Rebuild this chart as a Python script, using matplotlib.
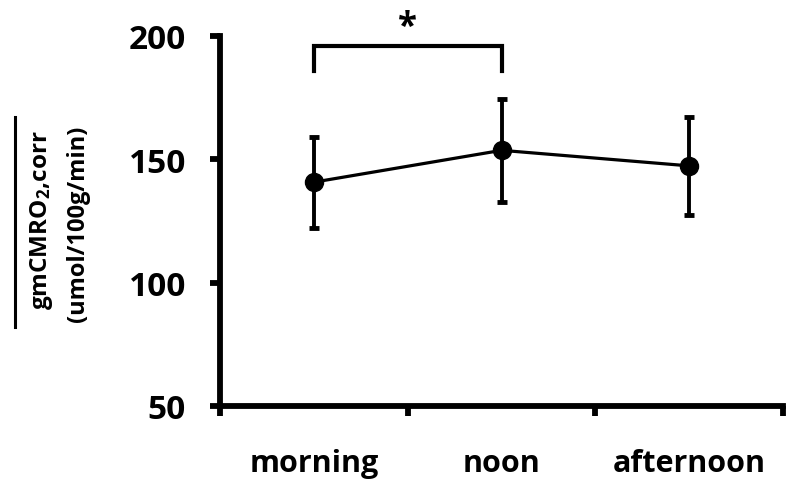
import matplotlib
matplotlib.use('Agg')
import matplotlib.pyplot as plt
from matplotlib.lines import Line2D
import numpy as np

plt.rcParams['font.family'] = ['Open Sans', 'DejaVu Sans']
plt.rcParams['font.weight'] = 'bold'
plt.rcParams['mathtext.fontset'] = 'custom'
plt.rcParams['mathtext.rm'] = 'Open Sans:bold'
plt.rcParams['mathtext.default'] = 'rm'

periods = ['morning', 'noon', 'afternoon']
mean_cmro2 = [140.7, 153.6, 147.3]
sd_cmro2 = [18.5, 21.0, 20.0]
y_ticks = [50, 100, 150, 200]
sig_pair = (0, 1)      # morning vs noon
sig_top = 196.0
sig_leg = 185.6
sig_star_y = 203.5

fig = plt.figure(figsize=(8, 4.85), dpi=100)
ax = fig.add_axes([0.275, 0.161, 0.704, 0.763])

x = np.arange(len(periods))
ax.errorbar(x, mean_cmro2, yerr=sd_cmro2, color='black', lw=2.3,
            marker='o', ms=13, elinewidth=2.8, capsize=3.5, capthick=3.5,
            clip_on=False)

# significance bracket
a, b = sig_pair
ax.plot([a, a, b, b], [sig_leg, sig_top, sig_top, sig_leg], color='black',
        lw=3, clip_on=False, solid_joinstyle='miter')
ax.text((a + b) / 2, sig_star_y, '*', ha='center', va='center',
        fontsize=25, fontweight='bold')

ax.set_xlim(-0.5, len(periods) - 0.5)
ax.set_ylim(50, 200)
ax.set_yticks(y_ticks)
ax.set_xticks(np.arange(len(periods) + 1) - 0.5)
ax.set_xticklabels([])
ax.set_xticks(x, minor=True)
ax.set_xticklabels(periods, minor=True)

for s in ['top', 'right']:
    ax.spines[s].set_visible(False)
for s in ['left', 'bottom']:
    ax.spines[s].set_linewidth(4.2)

ax.tick_params(axis='both', which='major', width=4.2, length=7.5)
ax.tick_params(axis='y', labelsize=24, pad=17)
ax.tick_params(axis='x', which='minor', length=0, labelsize=22, pad=30)

fig.text(42 / 800, 1 - 220 / 485, 'gmCMRO$_2$,corr', rotation=90,
         ha='center', va='center', fontsize=17.5, fontweight='bold')
fig.text(78 / 800, 1 - 224 / 485, '(umol/100g/min)', rotation=90,
         ha='center', va='center', fontsize=17, fontweight='bold')
fig.add_artist(Line2D([15 / 800, 15 / 800], [1 - 118 / 485, 1 - 328 / 485],
                      transform=fig.transFigure, color='black', lw=2.2))

fig.savefig('out.png', dpi=100)
